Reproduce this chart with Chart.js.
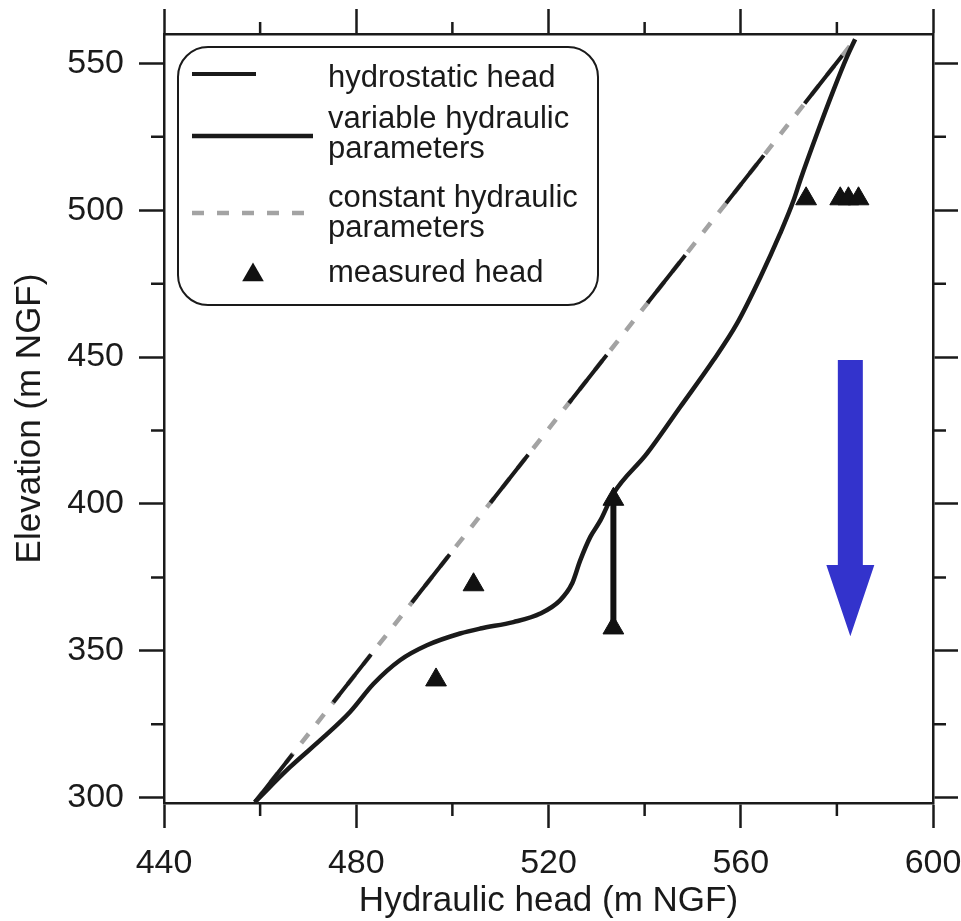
<!DOCTYPE html>
<html>
<head>
<meta charset="utf-8">
<script src="https://cdn.jsdelivr.net/npm/chart.js@4.4.1/dist/chart.umd.min.js"></script>
<style>
  html, body { margin: 0; padding: 0; background: #fff; }
  canvas { display: block; }
</style>
</head>
<body>
<canvas id="chart" width="961" height="921"></canvas>
<script>
// hydrostatic / constant parameters (straight line)
const hydroX = [458.9, 583.8];
const hydroY = [298.5, 558.2];

// variable hydraulic parameters curve
const varX = [458.9, 466.2, 473.2, 478.7, 483.6, 489.1, 494.7, 501.6, 505.8, 512.7, 518.3, 522.4, 524.9, 526.6,
  528.7, 530.8, 533.5, 540.5, 547.4, 554.3, 559.2, 564.1, 568.2, 571.0, 572.4, 575.9, 579.3, 582.1, 583.8];
const varY = [298.5, 310.4, 320.6, 329.2, 338.8, 346.8, 351.9, 355.9, 357.6, 359.8, 362.7, 367.2, 372.9, 380.8,
  388.8, 394.4, 403.5, 417.2, 433.0, 448.9, 461.4, 477.3, 492.1, 503.4, 510.3, 526.2, 540.9, 552.2, 558.2];

// measured head
const measX = [496.6, 504.4, 533.5, 533.5, 573.6, 580.7, 582.4, 584.5];
const measY = [340.1, 372.5, 357.8, 401.6, 503.9, 503.9, 503.9, 503.9];

// vertical range between the two measurements at 533.5
const rangeX = [533.5, 533.5];
const rangeY = [357.8, 401.6];

// blue arrow (x, from, head base, tip)
const arrowX = 582.8;
const arrowFrom = 449.0;
const arrowHeadBase = 379.2;
const arrowTo = 355.0;

const seriesNames = ["hydrostatic head", "variable hydraulic\nparameters", "constant hydraulic\nparameters", "measured head"];

const xTicks = { min: 440, max: 600, step: 40 };
const yTicks = { min: 298.2, max: 560, step: 50 };
const xMinor = [460, 500, 540, 580];
const yMinor = [325, 375, 425, 475, 525];

const ink = "#1a1a1a";
const toPts = (xs, ys) => xs.map((x, i) => ({ x: x, y: ys[i] }));

Chart.defaults.font.family = '"Liberation Sans", Arial, sans-serif';
Chart.defaults.color = ink;

const minorTicks = {
  id: "minorTicks",
  afterDraw(chart) {
    const ctx = chart.ctx;
    const a = chart.chartArea;
    ctx.save();
    ctx.strokeStyle = ink;
    ctx.lineWidth = 2.5;
    ctx.beginPath();
    xMinor.forEach(v => {
      const px = chart.scales.x.getPixelForValue(v);
      ctx.moveTo(px, a.bottom); ctx.lineTo(px, a.bottom + 13);
      ctx.moveTo(px, a.top); ctx.lineTo(px, a.top - 12);
    });
    yMinor.forEach(v => {
      const py = chart.scales.y.getPixelForValue(v);
      ctx.moveTo(a.left, py); ctx.lineTo(a.left - 13, py);
      ctx.moveTo(a.right, py); ctx.lineTo(a.right + 13, py);
    });
    ctx.stroke();
    ctx.restore();
  }
};

const arrow = {
  id: "arrow",
  afterDatasetsDraw(chart) {
    const ctx = chart.ctx;
    const cx = chart.scales.x.getPixelForValue(arrowX);
    const top = chart.scales.y.getPixelForValue(arrowFrom);
    const base = chart.scales.y.getPixelForValue(arrowHeadBase);
    const tip = chart.scales.y.getPixelForValue(arrowTo);
    ctx.save();
    ctx.fillStyle = "#3333cc";
    ctx.beginPath();
    ctx.moveTo(cx - 12.5, top);
    ctx.lineTo(cx + 12.5, top);
    ctx.lineTo(cx + 12.5, base);
    ctx.lineTo(cx + 24, base);
    ctx.lineTo(cx, tip);
    ctx.lineTo(cx - 24, base);
    ctx.lineTo(cx - 12.5, base);
    ctx.closePath();
    ctx.fill();
    ctx.restore();
  }
};

// boxed legend with rounded corners, like the original figure
const boxLegend = {
  id: "boxLegend",
  afterDraw(chart) {
    const ctx = chart.ctx;
    const bx = 178, by = 47, bw = 420, bh = 258, r = 30;
    ctx.save();
    ctx.beginPath();
    ctx.moveTo(bx + r, by);
    ctx.arcTo(bx + bw, by, bx + bw, by + bh, r);
    ctx.arcTo(bx + bw, by + bh, bx, by + bh, r);
    ctx.arcTo(bx, by + bh, bx, by, r);
    ctx.arcTo(bx, by, bx + bw, by, r);
    ctx.closePath();
    ctx.fillStyle = "#fff";
    ctx.fill();
    ctx.strokeStyle = ink;
    ctx.lineWidth = 2;
    ctx.stroke();

    const rows = [
      { ds: 0, sampleY: 74, len: 64, baseY: 86.7 },
      { ds: 1, sampleY: 136, len: 121, baseY: 128.3 },
      { ds: 2, sampleY: 213, len: 115, baseY: 206.7 },
      { ds: 3, sampleY: 275, len: 0, baseY: 281.7 }
    ];
    ctx.font = '31px "Liberation Sans", Arial, sans-serif';
    ctx.textBaseline = "alphabetic";
    ctx.textAlign = "left";
    rows.forEach(row => {
      const ds = chart.data.datasets[row.ds];
      if (row.len > 0) {
        ctx.beginPath();
        ctx.setLineDash(row.ds === 0 ? [] : ds.borderDash || []);
        ctx.strokeStyle = ds.borderColor;
        ctx.lineWidth = ds.borderWidth;
        ctx.moveTo(192, row.sampleY);
        ctx.lineTo(192 + row.len, row.sampleY);
        ctx.stroke();
        ctx.setLineDash([]);
      } else {
        const rad = 12.5, x = 253, y = row.sampleY;
        ctx.beginPath();
        ctx.moveTo(x, y - rad);
        ctx.lineTo(x + rad * Math.sin(2 * Math.PI / 3), y + rad / 2);
        ctx.lineTo(x - rad * Math.sin(2 * Math.PI / 3), y + rad / 2);
        ctx.closePath();
        ctx.fillStyle = ds.pointBackgroundColor;
        ctx.fill();
      }
      ctx.fillStyle = ink;
      ds.label.split("\n").forEach((line, i) => {
        ctx.fillText(line, 328, row.baseY + i * 30);
      });
    });
    ctx.restore();
  }
};

const axisLine = { display: true, width: 2.5, color: ink };
const tickGrid = { drawOnChartArea: false, drawTicks: true, tickLength: 25, tickWidth: 2.5, tickColor: ink };
const tickFont = { size: 34 };

// fixed axis sizes so the plot box lands where it is in the figure
const fixH = h => s => { s.height = h; s.paddingLeft = 0; s.paddingRight = 0; };
const fixW = w => s => { s.width = w; s.paddingTop = 0; s.paddingBottom = 0; };

new Chart(document.getElementById("chart"), {
  type: "scatter",
  data: {
    datasets: [
      {
        label: seriesNames[0],
        data: toPts(hydroX, hydroY),
        showLine: true,
        borderColor: ink,
        borderWidth: 4,
        borderDash: [61, 66],
        pointRadius: 0,
        order: 4
      },
      {
        label: seriesNames[1],
        data: toPts(varX, varY),
        showLine: true,
        borderColor: ink,
        borderWidth: 4.5,
        cubicInterpolationMode: "monotone",
        pointRadius: 0,
        order: 3
      },
      {
        label: seriesNames[2],
        data: toPts(hydroX, hydroY),
        showLine: true,
        borderColor: "#a3a3a3",
        borderWidth: 4.5,
        borderDash: [12, 13],
        pointRadius: 0,
        order: 5
      },
      {
        label: seriesNames[3],
        data: toPts(measX, measY),
        pointStyle: "triangle",
        pointRadius: 12,
        pointBackgroundColor: "#111",
        pointBorderColor: "#111",
        pointBorderWidth: 1,
        order: 1
      },
      {
        label: "range",
        data: toPts(rangeX, rangeY),
        showLine: true,
        borderColor: "#111",
        borderWidth: 6,
        pointRadius: 0,
        order: 2
      }
    ]
  },
  options: {
    responsive: false,
    animation: false,
    layout: { padding: 0 },
    plugins: {
      legend: { display: false },
      tooltip: { enabled: false }
    },
    scales: {
      x: {
        type: "linear",
        position: "bottom",
        min: xTicks.min,
        max: xTicks.max,
        ticks: { stepSize: xTicks.step, includeBounds: false, padding: 15, font: tickFont, color: ink, maxRotation: 0 },
        grid: tickGrid,
        border: axisLine,
        title: {
          display: true,
          text: "Hydraulic head (m NGF)",
          font: { size: 35, lineHeight: 1 },
          color: ink,
          padding: { top: 0, bottom: 2 }
        },
        afterFit: fixH(118)
      },
      x2: {
        type: "linear",
        position: "top",
        min: xTicks.min,
        max: xTicks.max,
        ticks: { stepSize: xTicks.step, includeBounds: false, display: false },
        grid: tickGrid,
        border: axisLine,
        afterFit: fixH(34)
      },
      y: {
        type: "linear",
        position: "left",
        min: yTicks.min,
        max: yTicks.max,
        ticks: { stepSize: yTicks.step, includeBounds: false, padding: 15, font: tickFont, color: ink },
        grid: tickGrid,
        border: axisLine,
        title: {
          display: true,
          text: "Elevation (m NGF)",
          font: { size: 35, lineHeight: 1 },
          color: ink,
          padding: { top: 13, bottom: 0 }
        },
        afterFit: fixW(164)
      },
      y2: {
        type: "linear",
        position: "right",
        min: yTicks.min,
        max: yTicks.max,
        ticks: { stepSize: yTicks.step, includeBounds: false, display: false },
        grid: tickGrid,
        border: axisLine,
        afterFit: fixW(28)
      }
    }
  },
  plugins: [minorTicks, arrow, boxLegend]
});
</script>
</body>
</html>
